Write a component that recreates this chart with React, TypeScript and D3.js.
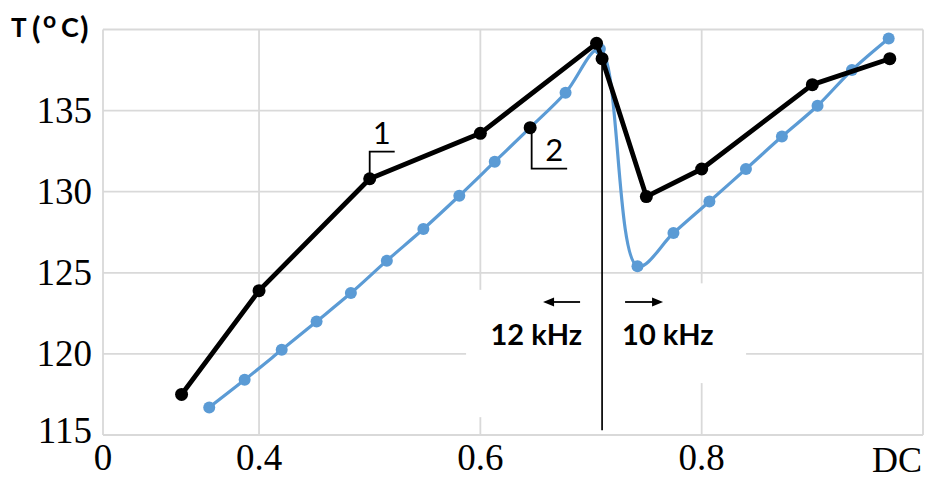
import React from 'react';
import * as d3 from 'd3';

// Duty cycle axis limits and temperature axis limits
const X_MIN = 0.259;
const X_MAX = 1.0;
const Y_MIN = 115;
const Y_MAX = 140;

// Tick positions and their labels
const xTickValues = [X_MIN, 0.4, 0.6, 0.8, X_MAX];
const xTickLabels = ['0', '0.4', '0.6', '0.8', 'DC'];
const xGridValues = [0.4, 0.6, 0.8, X_MAX];
const yTickValues = [115, 120, 125, 130, 135, 140];
const yTickLabels = ['115', '120', '125', '130', '135', ''];

// Curve 1 (black): measured junction temperature
const dcCurve1 = [0.33, 0.4, 0.5, 0.6, 0.705, 0.71, 0.75, 0.8, 0.9, 0.97];
const tCurve1 = [117.5, 123.9, 130.8, 133.6, 139.15, 138.2, 129.7, 131.4, 136.6, 138.2];

// Curve 2 (blue): calculated temperature
const dcCurve2 = [
  0.355, 0.387, 0.4205, 0.452, 0.483, 0.5155, 0.5485, 0.581, 0.613, 0.645,
  0.677, 0.708, 0.742, 0.7745, 0.807, 0.84, 0.8725, 0.9047, 0.9358, 0.969,
];
const tCurve2 = [
  116.7, 118.4, 120.25, 122.0, 123.75, 125.75, 127.7, 129.75, 131.85, 133.95,
  136.1, 138.8, 125.4, 127.45, 129.4, 131.4, 133.4, 135.3, 137.5, 139.45,
];

// Switching-frequency boundary
const dcBoundary = 0.71;
const tBoundaryTop = 138.2;
const tBoundaryBottom = 115.3;
const freqLeftLabel = '12 kHz';
const freqRightLabel = '10 kHz';
const tArrow = 123.2;
const tFreqText = 120.55;

const W = 930;
const H = 480;
const M = { left: 103, right: 923, top: 29.5, bottom: 435 };

const GRID = '#d9d9d9';
const BLUE = '#5b9bd5';
const SERIF = '"Liberation Serif", "Times New Roman", serif';
const SANS = 'Lato, "Open Sans", sans-serif';

export default function App() {
  const x = d3.scaleLinear().domain([X_MIN, X_MAX]).range([M.left, M.right]);
  const y = d3.scaleLinear().domain([Y_MIN, Y_MAX]).range([M.bottom, M.top]);

  const pts1: [number, number][] = dcCurve1.map((d, i) => [x(d), y(tCurve1[i])]);
  const pts2: [number, number][] = dcCurve2.map((d, i) => [x(d), y(tCurve2[i])]);

  const straight = d3.line().curve(d3.curveLinear);
  const smooth = d3.line().curve(d3.curveCatmullRom.alpha(0.5));

  const bx = x(dcBoundary);
  const ay = y(tArrow);
  const ty = y(tFreqText);

  // leader for curve 1 label
  const l1 = pts1[2];
  // leader for curve 2 label
  const l2 = pts2[9];

  return (
    <svg
      width={W}
      height={H}
      viewBox={`0 0 ${W} ${H}`}
      style={{ position: 'absolute', left: 0, top: 0, background: '#fff' }}
    >
      <rect x={0} y={0} width={W} height={H} fill="#fff" />

      {/* gridlines */}
      <g stroke={GRID} strokeWidth={1.8} fill="none">
        {yTickValues.map((v) => (
          <line key={'h' + v} x1={M.left} x2={M.right} y1={y(v)} y2={y(v)} />
        ))}
        {xGridValues.map((v) => (
          <line key={'v' + v} x1={x(v)} x2={x(v)} y1={M.top} y2={M.bottom} />
        ))}
        <line x1={M.left} x2={M.left} y1={M.top} y2={M.bottom} />
      </g>

      {/* white panels behind the frequency notes */}
      <rect x={bx - 136} y={y(123.95)} width={136} height={y(116.1) - y(123.95)} fill="#fff" />
      <rect x={bx} y={y(124.35)} width={144} height={y(118.2) - y(124.35)} fill="#fff" />

      {/* y tick labels */}
      <g fontFamily={SERIF} fontSize={37} fill="#000" textAnchor="end">
        {yTickValues.map((v, i) =>
          yTickLabels[i] ? (
            <text key={'yt' + v} x={92} y={Math.min(y(v) + 12, M.bottom + 8)}>
              {yTickLabels[i]}
            </text>
          ) : null
        )}
      </g>

      {/* x tick labels */}
      <g fontFamily={SERIF} fontSize={37} fill="#000" textAnchor="middle">
        {xTickValues.map((v, i) => {
          const last = i === xTickValues.length - 1;
          return (
            <text
              key={'xt' + v}
              x={x(v) + (last ? -26 : 0)}
              y={last ? 472 : 470}
              fontSize={last ? 36 : 37}
            >
              {xTickLabels[i]}
            </text>
          );
        })}
      </g>

      {/* axis title: T (°C) with raised "o" */}
      <g fontFamily={SANS} fontWeight={700} fill="#000">
        <text x={11} y={37} fontSize={26}>T</text>
        <text x={32} y={39} fontSize={31}>(</text>
        <text x={43} y={28} fontSize={23}>o</text>
        <text x={61} y={37} fontSize={27}>C</text>
        <text x={80} y={39} fontSize={31}>)</text>
      </g>

      {/* curve 2 */}
      <path d={smooth(pts2) || ''} fill="none" stroke={BLUE} strokeWidth={3.2} />
      {pts2.map((p, i) => (
        <circle key={'b' + i} cx={p[0]} cy={p[1]} r={6} fill={BLUE} />
      ))}

      {/* boundary line */}
      <line x1={bx} x2={bx} y1={y(tBoundaryTop)} y2={y(tBoundaryBottom)} stroke="#000" strokeWidth={1.7} />

      {/* curve 1 */}
      <path d={straight(pts1) || ''} fill="none" stroke="#000" strokeWidth={4.8} strokeLinejoin="round" />
      {pts1.map((p, i) => (
        <circle key={'k' + i} cx={p[0]} cy={p[1]} r={6.5} fill="#000" />
      ))}

      {/* curve labels */}
      <g stroke="#000" strokeWidth={1.8} fill="none">
        <polyline points={`${l1[0]},${l1[1]} ${l1[0]},${l1[1] - 27} ${l1[0] + 25},${l1[1] - 27}`} />
        <polyline points={`${l2[0] + 1.5},${l2[1]} ${l2[0] + 1.5},${l2[1] + 41} ${l2[0] + 37},${l2[1] + 41}`} />
      </g>
      <circle cx={l2[0]} cy={l2[1]} r={6.5} fill="#000" />
      <g fontFamily={SANS} fontSize={31} fill="#000" textAnchor="middle">
        <text x={l1[0] + 12} y={l1[1] - 35}>1</text>
        <text x={l2[0] + 24} y={l2[1] + 33}>2</text>
      </g>

      {/* frequency arrows */}
      <g stroke="#000" strokeWidth={1.8}>
        <line x1={bx - 22} x2={bx - 50} y1={ay} y2={ay} />
        <line x1={bx + 23} x2={bx + 52} y1={ay} y2={ay} />
      </g>
      <polygon points={`${bx - 59},${ay} ${bx - 48},${ay - 4.5} ${bx - 48},${ay + 4.5}`} fill="#000" />
      <polygon points={`${bx + 61},${ay} ${bx + 50},${ay - 4.5} ${bx + 50},${ay + 4.5}`} fill="#000" />

      <g fontFamily={SANS} fontWeight={700} fontSize={29} fill="#000">
        <text x={bx - 20} y={ty} textAnchor="end">{freqLeftLabel}</text>
        <text x={bx + 20} y={ty} textAnchor="start">{freqRightLabel}</text>
      </g>
    </svg>
  );
}
